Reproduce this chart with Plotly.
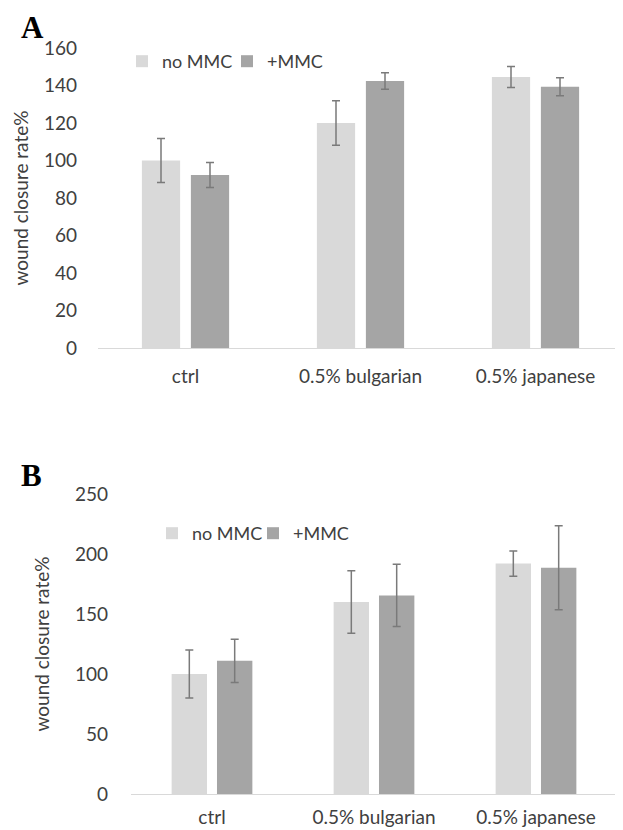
import plotly.graph_objects as go

categories = ["ctrl", "0.5% bulgarian", "0.5% japanese"]
series_names = ["no MMC", "+MMC"]

a_no_mmc = [100, 120, 144.5]
a_no_mmc_err = [11.7, 11.9, 5.6]
a_mmc = [92.3, 142.4, 139.4]
a_mmc_err = [6.7, 4.4, 4.8]

b_no_mmc = [100, 160, 192]
b_no_mmc_err = [20, 26, 10.5]
b_mmc = [111, 165.5, 188.5]
b_mmc_err = [18, 26, 35]

a_ticks = [0, 20, 40, 60, 80, 100, 120, 140, 160]
b_ticks = [0, 50, 100, 150, 200, 250]

W, H = 623, 830
OFF = 8  # page body margin offset of the plot div
FONT = "Lato"
C_LIGHT = "#d9d9d9"
C_DARK = "#a5a5a5"
C_ERR = "#7a7a7a"
C_TXT = "#404040"

fig = go.Figure()

def add_pair(no, no_err, mmc, mmc_err, xa, ya, legend):
    for name, vals, errs, col in [(series_names[0], no, no_err, C_LIGHT),
                                  (series_names[1], mmc, mmc_err, C_DARK)]:
        fig.add_trace(go.Bar(
            x=categories, y=vals, name=name, xaxis=xa, yaxis=ya, legend=legend,
            marker=dict(color=col, line=dict(width=0)),
            error_y=dict(type="data", array=errs, visible=True, color=C_ERR,
                         thickness=1.5, width=4),
        ))

add_pair(a_no_mmc, a_no_mmc_err, a_mmc, a_mmc_err, "x", "y", "legend")
add_pair(b_no_mmc, b_no_mmc_err, b_mmc, b_mmc_err, "x2", "y2", "legend2")

def px(sx):
    return (sx - OFF) / W

def py(sy):
    return (H - (sy - OFF)) / H

axis_common = dict(showgrid=False, zeroline=False, automargin=False)
fig.update_layout(
    width=W, height=H,
    margin=dict(l=0, r=0, t=0, b=0, autoexpand=False),
    paper_bgcolor="white", plot_bgcolor="white",
    font=dict(family=FONT, color=C_TXT, size=18),
    barmode="group", bargap=0.44, bargroupgap=0.22,
    showlegend=True,
    xaxis=dict(domain=[px(98), min(1, px(623))], anchor="y", showline=True,
               linecolor="#d9d9d9", linewidth=1, ticks="",
               tickfont=dict(size=19, color=C_TXT), ticklabelstandoff=11,
               **axis_common),
    yaxis=dict(domain=[py(348), py(48)], anchor="x", range=[0, 160],
               tickvals=a_ticks, showline=False, ticks="",
               tickfont=dict(size=19, color=C_TXT), ticklabelstandoff=20,
               title=dict(text="wound closure rate%", font=dict(size=19, color=C_TXT),
                          standoff=10),
               **axis_common),
    xaxis2=dict(domain=[px(131), px(617)], anchor="y2", showline=True,
                linecolor="#d9d9d9", linewidth=1, ticks="",
                tickfont=dict(size=19, color=C_TXT), ticklabelstandoff=6,
                **axis_common),
    yaxis2=dict(domain=[py(794), py(494)], anchor="x2", range=[0, 250],
                tickvals=b_ticks, showline=False, ticks="",
                tickfont=dict(size=19, color=C_TXT), ticklabelstandoff=22,
                title=dict(text="wound closure rate%", font=dict(size=19, color=C_TXT),
                           standoff=20),
                **axis_common),
    legend=dict(orientation="h", x=px(122), y=py(43), xanchor="left", yanchor="top",
                font=dict(size=18, color=C_TXT), bgcolor="rgba(0,0,0,0)",
                itemwidth=30, entrywidth=60, traceorder="normal"),
    legend2=dict(orientation="h", x=px(152), y=py(515), xanchor="left", yanchor="top",
                 font=dict(size=18, color=C_TXT), bgcolor="rgba(0,0,0,0)",
                 itemwidth=30, entrywidth=56, traceorder="normal"),
    annotations=[
        dict(text="<b>A</b>", x=px(19), y=py(8), xref="paper", yref="paper",
             xanchor="left", yanchor="top", showarrow=False,
             font=dict(family="Liberation Serif", size=31, color="black")),
        dict(text="<b>B</b>", x=px(19), y=py(456), xref="paper", yref="paper",
             xanchor="left", yanchor="top", showarrow=False,
             font=dict(family="Liberation Serif", size=31, color="black")),
    ],
)

fig.write_html("out.html")
